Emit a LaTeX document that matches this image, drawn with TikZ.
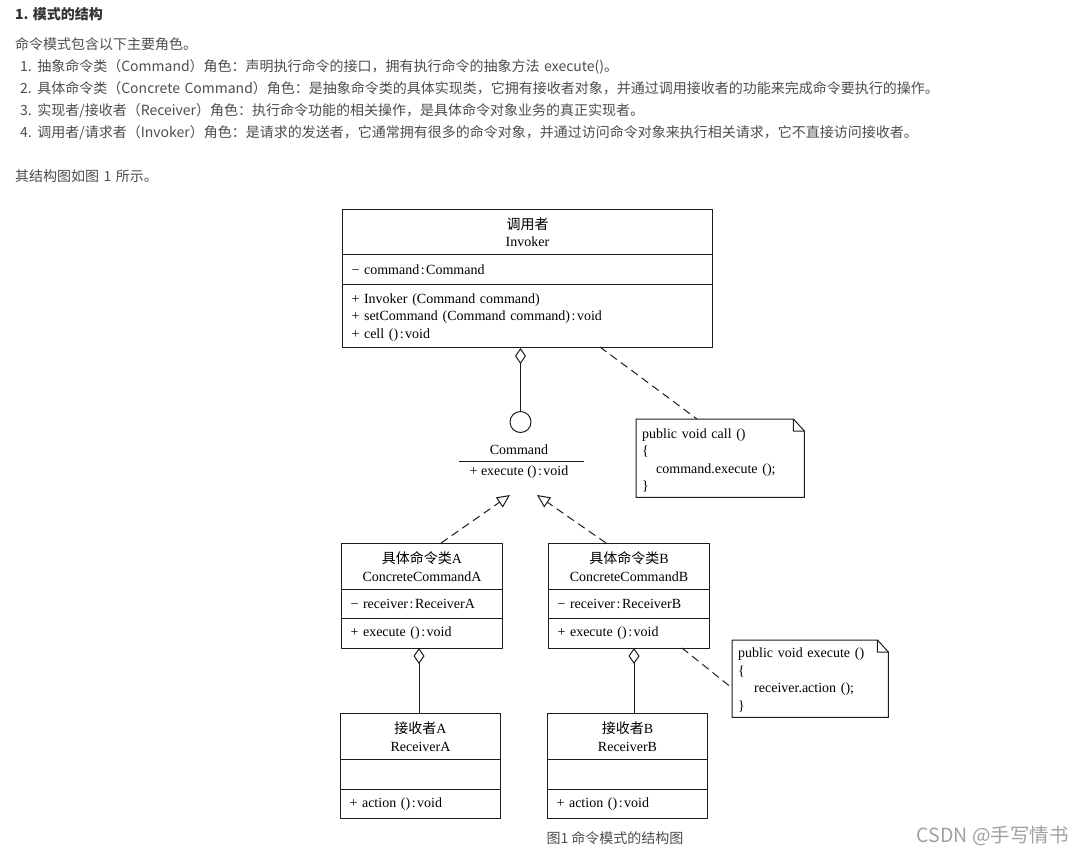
\documentclass[tikz,border=0pt]{standalone}
\usepackage{fontspec}
\setmainfont{Liberation Serif}
\newfontfamily\cjkfont{Noto Sans CJK SC}
\usetikzlibrary{arrows.meta,positioning}
\definecolor{bodytext}{HTML}{4D4D4D}
\definecolor{marktext}{HTML}{A0A0A0}
\definecolor{umlline}{HTML}{1C1C1C}
\newcommand{\zh}[1]{{\cjkfont #1}}
\newcommand{\ofT}{\kern1.5pt:\kern1.5pt}
\tikzset{
	para/.style={anchor=base west,inner sep=0pt,text=bodytext,font=\cjkfont\fontsize{14}{14}\selectfont\spaceskip 4.4pt\relax},
	part/.style 2 args={draw=umlline,line width=1pt,anchor=north west,minimum width=#1pt,
		minimum height=#2pt,inner xsep=0pt,inner ysep=0pt,font=\fontsize{14}{17.5}\selectfont,text=black},
	head/.style 2 args={part={#1}{#2},align=center,text width=#1pt},
	body/.style 2 args={part={#1}{#2},align=left,text width=#1pt-18pt},
	notebody/.style 2 args={anchor=north west,minimum width=#1pt,minimum height=#2pt,inner sep=0pt,
		align=left,text width=#1pt-12pt,font=\fontsize{14}{17.5}\selectfont},
	noteline/.style={draw=umlline,line width=1pt,dash pattern=on 8pt off 5pt},
	solid line/.style={draw=umlline,line width=1pt},
	aggr/.style={solid line,-{Diamond[open,length=16pt,width=11pt,line width=1pt]}},
	realize/.style={noteline,-{Triangle[open,length=13pt,width=12pt,line width=1pt,fill=white]}},
}
\begin{document}
\begin{tikzpicture}[x=1pt,y=1pt,line join=round]
	\useasboundingbox (0,0) rectangle (1083,-855);
	% text above the figure
	\node[para,font=\cjkfont\bfseries\fontsize{14}{14}\selectfont,text=black!80] (title) at (15,-19) {1. 模式的结构};
	\node[para] (intro) at (15,-49) {命令模式包含以下主要角色。};
	\node[para] (roleA) at (20,-71) {1. 抽象命令类（Command）角色：声明执行命令的接口，拥有执行命令的抽象方法 execute()。};
	\node[para] (roleB) at (20,-93) {2. 具体命令类（Concrete Command）角色：是抽象命令类的具体实现类，它拥有接收者对象，并通过调用接收者的功能来完成命令要执行的操作。};
	\node[para] (roleC) at (20,-115) {3. 实现者/接收者（Receiver）角色：执行命令功能的相关操作，是具体命令对象业务的真正实现者。};
	\node[para] (roleD) at (20,-137) {4. 调用者/请求者（Invoker）角色：是请求的发送者，它通常拥有很多的命令对象，并通过访问命令对象来执行相关请求，它不直接访问接收者。};
	\node[para] (outro) at (15,-181) {其结构图如图 1 所示。};
	% invoker
	\node[head={370}{45}] (invHead) at (342,-209) {\zh{调用者}\\Invoker};
	\node[body={370}{30}] (invAttr) at (342,-254) {− command\ofT Command};
	\node[body={370}{63}] (invOps) at (342,-284) {\rule{0pt}{12pt}+ Invoker (Command command)\\+ setCommand (Command command)\ofT void\\+ cell ()\ofT void};
	% command interface
	\node[draw=umlline,line width=1pt,circle,minimum size=21pt,inner sep=0pt] (cmdCircle) at (520.5,-422) {};
	\node[inner sep=0pt,font=\fontsize{14}{14}\selectfont] (cmdName) at (519,-450) {Command};
	\node[inner sep=0pt,font=\fontsize{14}{14}\selectfont] (cmdOp) at (519,-472) {+ execute ()\ofT void};
	\coordinate (barL) at (459,-461);
	\coordinate (barR) at (584,-461);
	\draw[solid line] (barL) -- (barR);
	% concrete commands
	\node[head={161}{46}] (concAHead) at (341,-543) {\zh{具体命令类}A\\ConcreteCommandA};
	\node[body={161}{29}] (concAAttr) at (341,-589) {− receiver\ofT ReceiverA};
	\node[body={161}{30}] (concAOps) at (341,-618) {+ execute ()\ofT void};
	\node[head={161}{46}] (concBHead) at (548,-543) {\zh{具体命令类}B\\ConcreteCommandB};
	\node[body={161}{29}] (concBAttr) at (548,-589) {− receiver\ofT ReceiverB};
	\node[body={161}{30}] (concBOps) at (548,-618) {+ execute ()\ofT void};
	% receivers
	\node[head={160}{46}] (recvAHead) at (340,-713) {\zh{接收者}A\\ReceiverA};
	\node[body={160}{30}] (recvAAttr) at (340,-759) {};
	\node[body={160}{29}] (recvAOps) at (340,-789) {+ action ()\ofT void};
	\node[head={160}{46}] (recvBHead) at (547,-713) {\zh{接收者}B\\ReceiverB};
	\node[body={160}{30}] (recvBAttr) at (547,-759) {};
	\node[body={160}{29}] (recvBOps) at (547,-789) {+ action ()\ofT void};
	% notes
	\node[notebody={168}{78}] (noteCall) at (636,-419) {\rule{0pt}{14pt}public void call ()\\\{\\\hspace*{14pt}command.execute ();\\\}};
	\node[notebody={156}{77}] (noteExec) at (732,-640) {\rule{0pt}{12pt}public void execute ()\\\{\\\hspace*{16pt}receiver.action ();\\\}};
	\draw[solid line] (noteCall.north west) -- ([xshift=-11pt]noteCall.north east) -- ([yshift=-12pt]noteCall.north east)
		-- (noteCall.south east) -- (noteCall.south west) -- cycle
		([xshift=-11pt]noteCall.north east) |- ([yshift=-12pt]noteCall.north east);
	\draw[solid line] (noteExec.north west) -- ([xshift=-11pt]noteExec.north east) -- ([yshift=-12pt]noteExec.north east)
		-- (noteExec.south east) -- (noteExec.south west) -- cycle
		([xshift=-11pt]noteExec.north east) |- ([yshift=-12pt]noteExec.north east);
	% connectors
	\coordinate (tipA) at (510,-495);
	\coordinate (tipB) at (537,-495);
	\coordinate (fromA) at (441,-543);
	\coordinate (fromB) at (606,-543);
	\coordinate (invDash) at (600,-347);
	\coordinate (callDash) at (697,-419);
	\coordinate (concBDash) at (682,-648);
	\coordinate (execDash) at (732,-688);
	\coordinate (diaA) at (419,-648);
	\coordinate (diaB) at (634,-648);
	\coordinate (recvATop) at (419,-713);
	\coordinate (recvBTop) at (634,-713);
	\draw[aggr] (cmdCircle.north) -- (cmdCircle.north |- invOps.south);
	\draw[noteline] (invDash) -- (callDash);
	\draw[realize] (fromA) -- (tipA);
	\draw[realize] (fromB) -- (tipB);
	\draw[aggr] (recvATop) -- (diaA);
	\draw[aggr] (recvBTop) -- (diaB);
	\draw[noteline] (concBDash) -- (execDash);
	% caption and mark
	\node[inner sep=0pt,text=bodytext,font=\cjkfont\fontsize{14}{14}\selectfont] (caption) at (615,-838) {图1 命令模式的结构图};
	\node[inner sep=0pt,text=marktext,font=\cjkfont\fontsize{19.5}{19.5}\selectfont,anchor=east] (mark) at (1069,-836) {CSDN @手写情书};
\end{tikzpicture}
\end{document}
